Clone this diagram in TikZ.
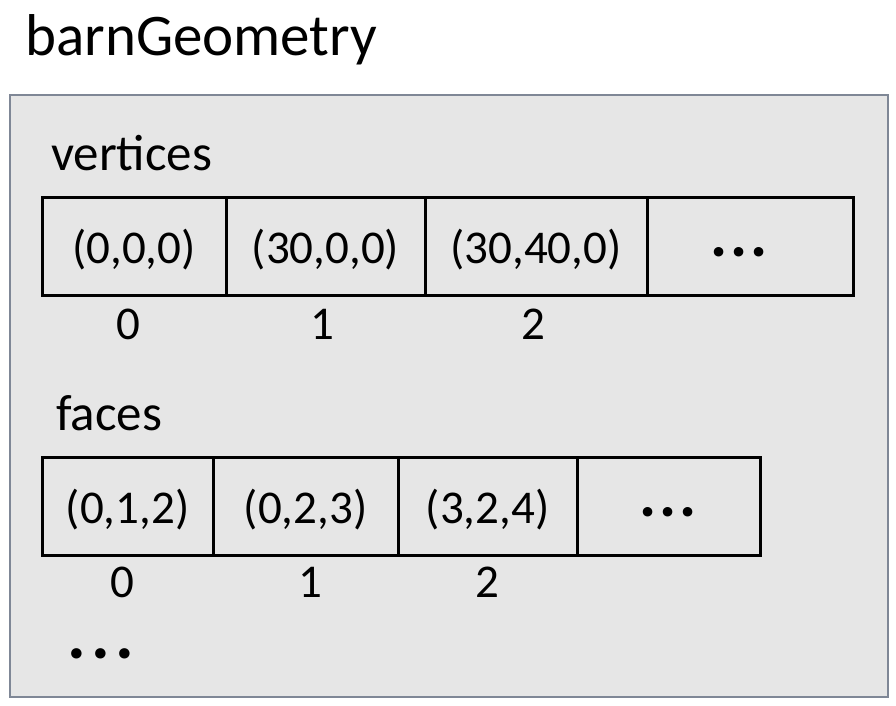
\documentclass[tikz,border=0pt]{standalone}
\usepackage{fontspec}
\setmainfont{Carlito}
\newcommand{\dotrow}[2]{\makebox[#1]{.}\makebox[#1]{.}\makebox[#1]{.}}
\begin{document}
\begin{tikzpicture}[x=1pt,y=-1pt,
  cell/.style={draw=black, line width=3pt, minimum height=98pt, inner sep=0pt,
    text height=34pt, text depth=0pt, font=\fontsize{47}{54}\selectfont},
  idx/.style={font=\fontsize{47}{54}\selectfont, inner sep=0pt, anchor=base},
  lbl/.style={font=\fontsize{51}{58}\selectfont, inner sep=0pt, anchor=base west},
  dots/.style={font=\bfseries\fontsize{64}{70}\selectfont, inner sep=0pt, anchor=base}]
\useasboundingbox (0,0) rectangle (896,705);
\node[lbl, font=\fontsize{59}{66}\selectfont] (title) at (25,55) {barnGeometry};
\draw[draw={rgb,255:red,127;green,135;blue,150}, fill={rgb,255:red,230;green,230;blue,230}, line width=1.2pt] (10,95) rectangle (888,697);
\node[lbl] (vlabel) at (51,170) {vertices};
\node[cell, minimum width=184pt] (v0) at (134,246) {(0,0,0)};
\node[cell, minimum width=199pt] (v1) at (325.5,246) {(30,0,0)};
\node[cell, minimum width=222pt] (v2) at (536,246) {(30,40,0)};
\node[cell, minimum width=206pt] (v3) at (750,246) {};
\node[dots] (v3dots) at (739,256) {\dotrow{20pt}{}};
\node[idx] (vi0) at (128,339) {0};
\node[idx] (vi1) at (322,339) {1};
\node[idx] (vi2) at (533,339) {2};
\node[lbl] (flabel) at (56,430) {faces};
\node[cell, minimum width=171pt] (f0) at (127.5,506) {(0,1,2)};
\node[cell, minimum width=185pt] (f1) at (305.5,506) {(0,2,3)};
\node[cell, minimum width=179pt] (f2) at (487.5,506) {(3,2,4)};
\node[cell, minimum width=183pt] (f3) at (668.5,506) {};
\node[dots] (f3dots) at (668,516) {\dotrow{20pt}{}};
\node[idx] (fi0) at (122,597) {0};
\node[idx] (fi1) at (310,597) {1};
\node[idx] (fi2) at (487,597) {2};
\node[dots, font=\bfseries\fontsize{70}{76}\selectfont] (more) at (101,658) {\dotrow{24pt}{}};
\end{tikzpicture}
\end{document}
